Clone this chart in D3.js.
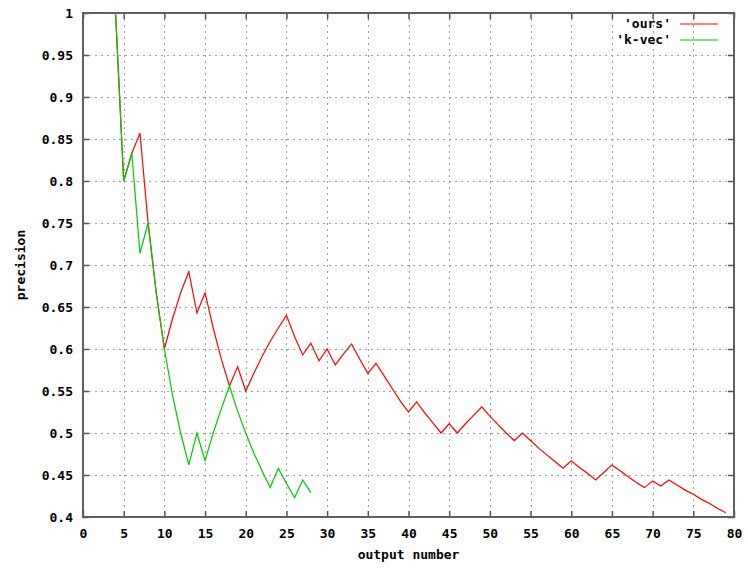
<!DOCTYPE html>
<html>
<head>
<meta charset="utf-8">
<script src="https://cdn.jsdelivr.net/npm/d3@7"></script>
<style>
  body { margin: 0; background: #fff; }
  text { font-family: "DejaVu Sans Mono", monospace; font-weight: bold; font-size: 13px; fill: #000; }
</style>
</head>
<body>
<div id="chart"></div>
<script>
// output number (x) for each series
const oursX = [4,5,6,7,8,9,10,11,12,13,14,15,16,17,18,19,20,21,22,23,24,25,26,27,28,29,30,31,32,33,34,35,36,37,38,39,40,41,42,43,44,45,46,47,48,49,50,51,52,53,54,55,56,57,58,59,60,61,62,63,64,65,66,67,68,69,70,71,72,73,74,75,76,77,78,79];
const oursY = [1,0.8,0.833,0.857,0.75,0.667,0.6,0.636,0.667,0.692,0.643,0.667,0.625,0.588,0.556,0.579,0.55,0.571,0.591,0.609,0.625,0.64,0.615,0.593,0.607,0.586,0.6,0.581,0.594,0.606,0.588,0.571,0.583,0.568,0.553,0.538,0.525,0.537,0.524,0.512,0.5,0.511,0.5,0.511,0.521,0.531,0.52,0.51,0.5,0.491,0.5,0.491,0.482,0.474,0.466,0.458,0.467,0.459,0.452,0.444,0.453,0.462,0.455,0.448,0.441,0.435,0.443,0.437,0.444,0.438,0.432,0.427,0.421,0.416,0.41,0.405];
const kvecX = [4,5,6,7,8,9,10,11,12,13,14,15,16,17,18,19,20,21,22,23,24,25,26,27,28];
const kvecY = [1,0.8,0.833,0.714,0.75,0.667,0.6,0.545,0.5,0.462,0.5,0.467,0.5,0.529,0.556,0.526,0.5,0.476,0.455,0.435,0.458,0.44,0.423,0.444,0.429];

const xTicks = [0,5,10,15,20,25,30,35,40,45,50,55,60,65,70,75,80];
const yTicks = [0.4,0.45,0.5,0.55,0.6,0.65,0.7,0.75,0.8,0.85,0.9,0.95,1];
const yTickLabels = ["0.4","0.45","0.5","0.55","0.6","0.65","0.7","0.75","0.8","0.85","0.9","0.95","1"];

const seriesNames = ["'ours'", "'k-vec'"];
const seriesColors = ["#ff0000", "#00c800"];

const width = 748, height = 569;
const margin = { top: 13, right: 14, bottom: 52, left: 83 };

const svg = d3.select('#chart').append('svg')
  .attr('width', width)
  .attr('height', height);

const x = d3.scaleLinear()
  .domain([0, 80])
  .range([margin.left, width - margin.right]);

const y = d3.scaleLinear()
  .domain([0.4, 1])
  .range([height - margin.bottom, margin.top]);

// grid
const grid = svg.append('g')
  .attr('stroke', '#a0a0a0')
  .attr('stroke-width', 1)
  .attr('stroke-dasharray', '2,4')
  .attr('shape-rendering', 'crispEdges');

grid.selectAll('.gx')
  .data(xTicks.slice(1, -1))
  .join('line')
  .attr('x1', d => Math.round(x(d)) + 0.5).attr('x2', d => Math.round(x(d)) + 0.5)
  .attr('y1', y(1)).attr('y2', y(0.4));

grid.selectAll('.gy')
  .data(yTicks.slice(1, -1))
  .join('line')
  .attr('x1', x(0)).attr('x2', x(80))
  .attr('y1', d => Math.round(y(d)) + 0.5).attr('y2', d => Math.round(y(d)) + 0.5);

// axes with inward ticks (gnuplot style, mirrored)
const tickLen = 6;
const axisBottom = d3.axisBottom(x).tickValues(xTicks).tickSizeInner(-tickLen).tickSizeOuter(0).tickPadding(12);
const axisLeft = d3.axisLeft(y).tickValues(yTicks).tickSizeInner(-tickLen).tickSizeOuter(0).tickPadding(10)
  .tickFormat((d, i) => yTickLabels[i]);
const axisTop = d3.axisTop(x).tickValues(xTicks).tickSizeInner(-tickLen).tickSizeOuter(0).tickFormat('');
const axisRight = d3.axisRight(y).tickValues(yTicks).tickSizeInner(-tickLen).tickSizeOuter(0).tickFormat('');

function styleAxis(g) {
  g.select('.domain').remove();
  g.selectAll('.tick line').attr('stroke', '#555').attr('stroke-width', 1.5);
  g.selectAll('.tick text').attr('fill', '#000').attr('font-size', null).attr('font-family', null);
}

svg.append('g').attr('transform', `translate(0,${y(0.4)})`).call(axisBottom).call(styleAxis);
svg.append('g').attr('transform', `translate(${x(0)},0)`).call(axisLeft).call(styleAxis);
svg.append('g').attr('transform', `translate(0,${y(1)})`).call(axisTop).call(styleAxis);
svg.append('g').attr('transform', `translate(${x(80)},0)`).call(axisRight).call(styleAxis);

// border
svg.append('rect')
  .attr('x', x(0)).attr('y', y(1))
  .attr('width', x(80) - x(0)).attr('height', y(0.4) - y(1))
  .attr('fill', 'none')
  .attr('stroke', '#606060')
  .attr('stroke-width', 2);

// lines
const line = d3.line().x(d => x(d[0])).y(d => y(d[1]));
const series = [d3.zip(oursX, oursY), d3.zip(kvecX, kvecY)];

svg.append('g').selectAll('path')
  .data(series)
  .join('path')
  .attr('d', line)
  .attr('fill', 'none')
  .attr('stroke', (d, i) => seriesColors[i])
  .attr('stroke-width', 1.2);

// legend
const legend = svg.append('g');
seriesNames.forEach((name, i) => {
  const ly = 24 + i * 16;
  legend.append('text')
    .attr('x', 671).attr('y', ly)
    .attr('text-anchor', 'end')
    .attr('dominant-baseline', 'middle')
    .text(name);
  legend.append('line')
    .attr('x1', 680).attr('x2', 718)
    .attr('y1', ly).attr('y2', ly)
    .attr('stroke', seriesColors[i])
    .attr('stroke-width', 1.2);
});

// axis titles
svg.append('text')
  .attr('x', (x(0) + x(80)) / 2)
  .attr('y', 559)
  .attr('text-anchor', 'middle')
  .text('output number');

svg.append('text')
  .attr('transform', `translate(25,${(y(1) + y(0.4)) / 2}) rotate(-90)`)
  .attr('text-anchor', 'middle')
  .text('precision');
</script>
</body>
</html>
